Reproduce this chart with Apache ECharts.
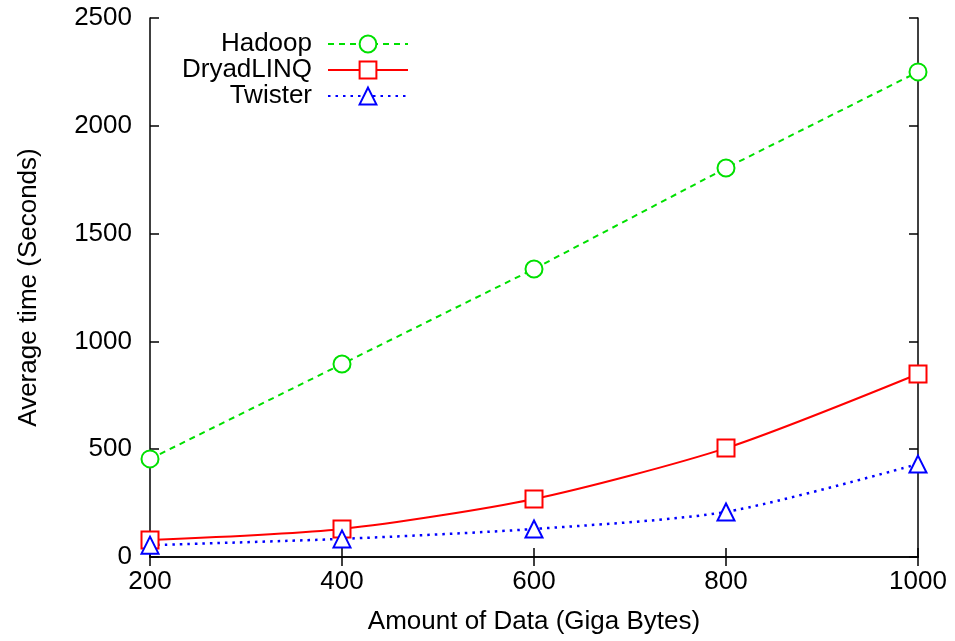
<!DOCTYPE html>
<html>
<head>
<meta charset="utf-8">
<script src="https://cdn.jsdelivr.net/npm/echarts@6/dist/echarts.min.js"></script>
<style>
  html, body { margin: 0; padding: 0; background: #fff; }
  #chart { width: 955px; height: 641px; }
</style>
</head>
<body>
<div id="chart"></div>
<script>
// data
var dataSizes = [200, 400, 600, 800, 1000]
var hadoop = [455, 895, 1336, 1804, 2250]
var dryadLinq = [79, 130, 269, 505, 849]
var twister = [55, 84, 130, 209, 431]

function pairs(ys) {
  return dataSizes.map(function (x, i) { return [x, ys[i]] })
}

var font = 'Liberation Sans, Arial, Helvetica, sans-serif'
var plain = function (v) { return String(v) }

var mirrorX = {
  type: 'value', position: 'top', min: 200, max: 1000, interval: 200,
  axisLine: { show: true, lineStyle: { color: '#000', width: 1.5 } },
  axisTick: { show: true, inside: true, length: 9, lineStyle: { color: '#000', width: 1.5 } },
  axisLabel: { show: false },
  splitLine: { show: false }
}
var mirrorY = {
  type: 'value', position: 'right', min: 0, max: 2500, interval: 500,
  axisLine: { show: true, lineStyle: { color: '#000', width: 1.5 } },
  axisTick: { show: true, inside: true, length: 9, lineStyle: { color: '#000', width: 1.5 } },
  axisLabel: { show: false },
  splitLine: { show: false }
}

var myChart = echarts.init(document.getElementById('chart'))
var option = {
  animation: false,
  textStyle: { fontFamily: font },
  grid: { left: 150, right: 37, top: 18, bottom: 84 },
  legend: {
    orient: 'vertical',
    align: 'right',
    right: 541,
    top: 26,
    itemWidth: 80,
    itemHeight: 21,
    itemGap: 0,
    textStyle: { fontSize: 26, lineHeight: 21, color: '#000', fontFamily: font, padding: [0, 11, 0, 0] },
    data: ['Hadoop', 'DryadLINQ', 'Twister']
  },
  xAxis: [
    {
      type: 'value',
      min: 200,
      max: 1000,
      interval: 200,
      name: 'Amount of Data (Giga Bytes)',
      nameLocation: 'middle',
      nameGap: 52,
      nameTextStyle: { fontSize: 26, color: '#000', fontFamily: font },
      axisLine: { show: true, lineStyle: { color: '#000', width: 1.5 } },
      axisTick: { show: true, inside: true, length: 9, lineStyle: { color: '#000', width: 1.5 } },
      axisLabel: { fontSize: 26, color: '#000', margin: 12, fontFamily: font, formatter: plain },
      splitLine: { show: false }
    },
    mirrorX
  ],
  yAxis: [
    {
      type: 'value',
      min: 0,
      max: 2500,
      interval: 500,
      name: 'Average time (Seconds)',
      nameLocation: 'middle',
      nameGap: 108,
      nameTextStyle: { fontSize: 26, color: '#000', fontFamily: font },
      axisLine: { show: true, lineStyle: { color: '#000', width: 1.5 } },
      axisTick: { show: true, inside: true, length: 9, lineStyle: { color: '#000', width: 1.5 } },
      axisLabel: { fontSize: 26, color: '#000', margin: 18, fontFamily: font, formatter: plain },
      splitLine: { show: false }
    },
    mirrorY
  ],
  series: [
    {
      name: 'Hadoop',
      type: 'line',
      data: pairs(hadoop),
      symbol: 'emptyCircle',
      symbolSize: 17,
      itemStyle: { color: '#00e000', borderWidth: 1.8 },
      lineStyle: { color: '#00e000', width: 2, type: [6, 5] }
    },
    {
      name: 'DryadLINQ',
      type: 'line',
      data: pairs(dryadLinq),
      smooth: 0.25,
      symbol: 'emptyRect',
      symbolSize: 17,
      itemStyle: { color: '#ff0000', borderWidth: 1.8 },
      lineStyle: { color: '#ff0000', width: 2 }
    },
    {
      name: 'Twister',
      type: 'line',
      data: pairs(twister),
      smooth: 0.25,
      symbol: 'emptyTriangle',
      symbolSize: 17,
      itemStyle: { color: '#0000ff', borderWidth: 2 },
      lineStyle: { color: '#0000ff', width: 2.5, type: [2.5, 5] }
    }
  ]
}
myChart.setOption(option)
</script>
</body>
</html>
